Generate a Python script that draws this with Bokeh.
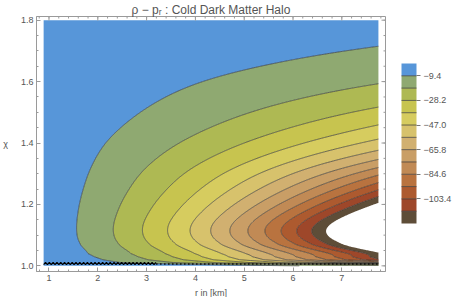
import numpy as np
from bokeh.plotting import figure
from bokeh.models import FixedTicker, CustomJSTickFormatter, PrintfTickFormatter, Range1d
from bokeh.embed import file_html
from bokeh.resources import INLINE

# ---- data ----
levels = [-122.2, -112.8, -103.4, -94.0, -84.6, -75.2, -65.8, -56.4,
          -47.0, -37.6, -28.2, -18.8, -9.4, 0.0]
colorbar_ticks = [-103.4, -84.6, -65.8, -47.0, -28.2, -9.4]
band_colors = ["#5e4d38", "#9e472a", "#ad5a2f", "#b9733f", "#c18a55", "#c99e66",
               "#d1b070", "#d7c26c", "#d6cc5f", "#c7c44f", "#aeb953", "#8fa971",
               "#5796d9"]
x_ticks = [1, 2, 3, 4, 5, 6, 7]
y_ticks = [1.0, 1.2, 1.4, 1.6, 1.8]
chi_knots = [1.0, 1.01, 1.02, 1.04, 1.07, 1.12, 1.2, 1.3, 1.4, 1.5, 1.6, 1.716, 1.8]
amp_knots = [0.3, 1.65, 2.29, 3.59, 4.15, 4.30, 4.26, 3.89, 3.48, 2.65, 2.16, 1.34, 0.9]
pow_knots = [1.9, 1.9, 1.9, 1.73, 1.76, 1.79, 1.65, 1.5, 1.3, 1.2, 1.04, 0.95, 0.9]
r_span = [0.89, 7.75]
chi_span = [1.0, 1.8]
# singular line artefact at chi = 1
singular_r = [0.89, 3.2, 7.75]
singular_chi = [1.004, 1.011, 1.006]

# ---- field ----
r = np.linspace(r_span[0], r_span[1], 340)
chi = np.linspace(chi_span[0], chi_span[1], 600)
lnA = np.interp(chi, chi_knots, np.log(amp_knots))
pw = np.interp(chi, chi_knots, pow_knots)

def smooth(a, sigma_pts):
    k = np.arange(-3 * sigma_pts, 3 * sigma_pts + 1)
    w = np.exp(-0.5 * (k / sigma_pts) ** 2)
    w /= w.sum()
    pad = len(k) // 2
    ap = np.concatenate([np.full(pad, a[0]), a, np.full(pad, a[-1])])
    return np.convolve(ap, w, mode="valid")

blend = np.clip((chi - 1.03) / 0.05, 0, 1)
lnA = blend * smooth(lnA, 19) + (1 - blend) * lnA
pw = blend * smooth(pw, 19) + (1 - blend) * pw
Z = -np.exp(lnA[:, None] + pw[:, None] * np.log(r)[None, :])

grey = "#9a9a9a"
txt = "#555555"
font = "Liberation Sans"

fw, fh = 349, 255
xr = Range1d(0.744, 7.895)
yr = Range1d(0.9816, 1.812)
p = figure(frame_width=fw, frame_height=fh, output_backend="svg", toolbar_location=None,
           x_range=xr, y_range=yr,
           min_border_left=36, min_border_right=10, min_border_top=0,
           min_border_bottom=0)
p.title.text = "\u03c1 \u2212 p\u1d63 : Cold Dark Matter Halo"
p.title.align = "center"
p.title.text_font = font
p.title.text_font_size = "12px"
p.title.text_font_style = "normal"
p.title.text_color = txt
p.title.standoff = 0
p.grid.visible = False
p.outline_line_color = grey
p.background_fill_color = "white"

cr = p.contour(x=r, y=chi, z=Z, levels=levels, fill_color=band_colors,
               line_color="#333333",
               line_alpha=[0.0] + [0.78] * 12 + [0.0], line_width=0.9)

# singular zig-zag
zr = np.arange(singular_r[0], singular_r[1], 0.039)
zc = np.where(np.arange(len(zr)) % 2 == 0, singular_chi[0], singular_chi[1])
p.line(zr, zc, line_color="black", line_width=1.2)
p.line([singular_r[1], singular_r[2]], [singular_chi[2], singular_chi[2]],
       line_color="black", line_width=2, line_dash="1 3")

for ax in [p.xaxis[0], p.yaxis[0]]:
    ax.axis_line_color = grey
    ax.major_tick_line_color = grey
    ax.minor_tick_line_color = grey
    ax.major_tick_in = 4
    ax.major_tick_out = 0
    ax.minor_tick_in = 2
    ax.minor_tick_out = 0
    ax.major_label_text_font = font
    ax.major_label_text_font_size = "9px"
    ax.major_label_text_color = txt
    ax.axis_label_text_font = font
    ax.axis_label_text_font_size = "9px"
    ax.axis_label_text_color = txt
    ax.axis_label_text_font_style = "normal"
    ax.major_label_standoff = 3

x_minor = list(np.round(np.arange(0.8, 7.9, 0.2), 2))
y_minor = list(np.round(np.arange(1.0, 1.81, 0.05), 2))
p.xaxis[0].ticker = FixedTicker(ticks=x_ticks, minor_ticks=x_minor)
p.yaxis[0].ticker = FixedTicker(ticks=y_ticks, minor_ticks=y_minor)
p.yaxis[0].formatter = PrintfTickFormatter(format="%.1f")
p.xaxis[0].axis_label = "r in [km]"
p.yaxis[0].axis_label = "\u03c7"
p.yaxis[0].axis_label_orientation = "horizontal"
p.yaxis[0].major_label_orientation = "horizontal"
p.xaxis[0].axis_label_standoff = 4
p.yaxis[0].axis_label_standoff = 10

# frame ticks on top and right (Mathematica style)
dy = (yr.end - yr.start) / fh
dx = (xr.end - xr.start) / fw
p.segment(x0=x_ticks, x1=x_ticks, y0=[yr.end] * len(x_ticks), y1=[yr.end - 4 * dy] * len(x_ticks),
          line_color=grey, line_width=1)
p.segment(x0=x_minor, x1=x_minor, y0=[yr.end] * len(x_minor), y1=[yr.end - 2 * dy] * len(x_minor),
          line_color=grey, line_width=1)
p.segment(x0=[xr.end] * len(y_ticks), x1=[xr.end - 4 * dx] * len(y_ticks), y0=y_ticks, y1=y_ticks,
          line_color=grey, line_width=1)
p.segment(x0=[xr.end] * len(y_minor), x1=[xr.end - 2 * dx] * len(y_minor), y0=y_minor, y1=y_minor,
          line_color=grey, line_width=1)

cbar = cr.construct_color_bar(
    width=15, height=160, padding=0, margin=0, location=(16, 48),
    major_label_text_font=font, major_label_text_font_size="9px",
    major_label_text_color=txt, major_tick_line_color="#777777",
    major_tick_out=4, major_tick_in=0, label_standoff=3,
    bar_line_color=None, border_line_color=None, background_fill_color=None)
cbar.ticker = FixedTicker(ticks=colorbar_ticks)
cbar.formatter = CustomJSTickFormatter(code="return '\u2212' + Math.abs(tick).toFixed(1);")
p.add_layout(cbar, "right")

open("out.html", "w").write(file_html(p, INLINE))
